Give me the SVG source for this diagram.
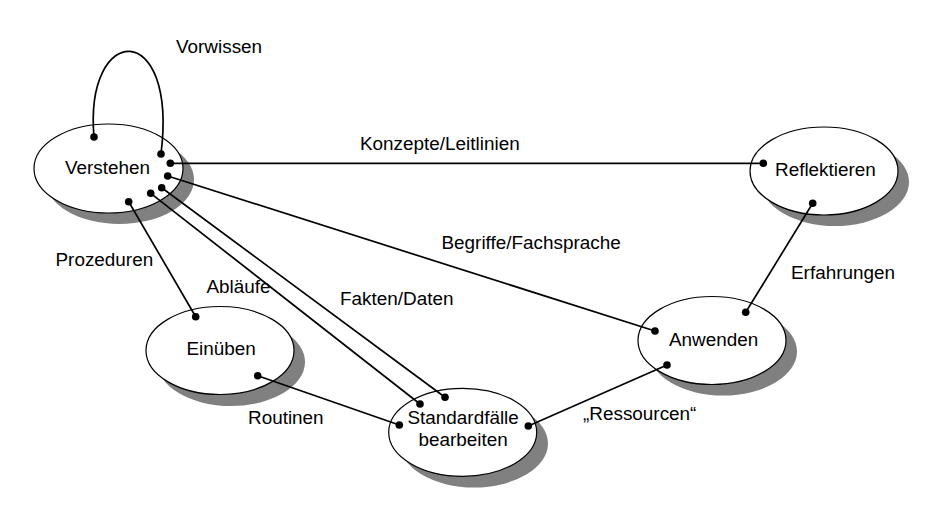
<svg xmlns="http://www.w3.org/2000/svg" width="942" height="526" viewBox="0 0 942 526">
<style>
.sh{fill:#808080;stroke:none}
.nd{fill:#ffffff;stroke:#000000;stroke-width:1.2}
text{font-family:"Liberation Sans",Arial,sans-serif;font-size:18.9px;fill:#000000}
.cn{fill:none;stroke:#000000;stroke-width:1.7}
.dot{fill:#000000}
</style>
<rect width="942" height="526" fill="#ffffff"/>
<g id="node-verstehen">
<ellipse class="sh" cx="119.5" cy="179.5" rx="74.5" ry="44.5"/>
<ellipse class="nd" cx="108.5" cy="168.5" rx="74.5" ry="44.5"/>
<text x="65" y="174">Verstehen</text>
</g>
<g id="node-reflektieren">
<ellipse class="sh" cx="835" cy="182" rx="74" ry="44"/>
<ellipse class="nd" cx="824" cy="171" rx="74" ry="44"/>
<text x="775" y="176">Reflektieren</text>
</g>
<g id="node-einueben">
<ellipse class="sh" cx="231" cy="362" rx="74" ry="44"/>
<ellipse class="nd" cx="220" cy="350.5" rx="74" ry="44"/>
<text x="186.5" y="355">Einüben</text>
</g>
<g id="node-anwenden">
<ellipse class="sh" cx="723" cy="351.5" rx="74" ry="44"/>
<ellipse class="nd" cx="712" cy="340.5" rx="74" ry="44"/>
<text x="669" y="346">Anwenden</text>
</g>
<g id="node-standardfaelle">
<ellipse class="sh" cx="474" cy="443.5" rx="74" ry="44"/>
<ellipse class="nd" cx="462.7" cy="432.3" rx="74" ry="44"/>
<text x="407.5" y="424">Standardfälle</text>
<text x="418.5" y="446">bearbeiten</text>
</g>
<g id="connectors">
<path class="cn" d="M94 137 C84 22, 178 18, 161 154"/>
<line class="cn" x1="170.3" y1="163.3" x2="763.3" y2="163.3"/>
<line class="cn" x1="167.7" y1="176" x2="655" y2="331"/>
<line class="cn" x1="161.7" y1="187.7" x2="445" y2="397.3"/>
<line class="cn" x1="150.7" y1="193.3" x2="420" y2="404"/>
<line class="cn" x1="128.7" y1="201.7" x2="195.7" y2="316.7"/>
<line class="cn" x1="257.7" y1="375.7" x2="399.3" y2="425"/>
<line class="cn" x1="528.3" y1="426" x2="667" y2="365"/>
<line class="cn" x1="745.7" y1="312.3" x2="812.7" y2="203.3"/>
<g class="dot">
<circle cx="94" cy="137" r="3.8"/>
<circle cx="161" cy="154" r="3.8"/>
<circle cx="170.3" cy="163.3" r="3.8"/>
<circle cx="167.7" cy="176" r="3.8"/>
<circle cx="161.7" cy="187.7" r="3.8"/>
<circle cx="150.7" cy="193.3" r="3.8"/>
<circle cx="128.7" cy="201.7" r="3.8"/>
<circle cx="763.3" cy="163.3" r="3.8"/>
<circle cx="812.7" cy="203.3" r="3.8"/>
<circle cx="745.7" cy="312.3" r="3.8"/>
<circle cx="655" cy="331" r="3.8"/>
<circle cx="667" cy="365" r="3.8"/>
<circle cx="195.7" cy="316.7" r="3.8"/>
<circle cx="257.7" cy="375.7" r="3.8"/>
<circle cx="420" cy="404" r="3.8"/>
<circle cx="445" cy="397.3" r="3.8"/>
<circle cx="399.3" cy="425" r="3.8"/>
<circle cx="528.3" cy="426" r="3.8"/>
</g>
<g id="connector-labels">
<text x="176" y="53">Vorwissen</text>
<text x="360" y="150">Konzepte/Leitlinien</text>
<text x="441.5" y="248.5">Begriffe/Fachsprache</text>
<text x="55.5" y="266">Prozeduren</text>
<text x="206.5" y="292.5">Abläufe</text>
<text x="340" y="305">Fakten/Daten</text>
<text x="248" y="423.5">Routinen</text>
<text x="583" y="419.5">„Ressourcen“</text>
<text x="791" y="278.5">Erfahrungen</text>
</g>
</g>
</svg>
